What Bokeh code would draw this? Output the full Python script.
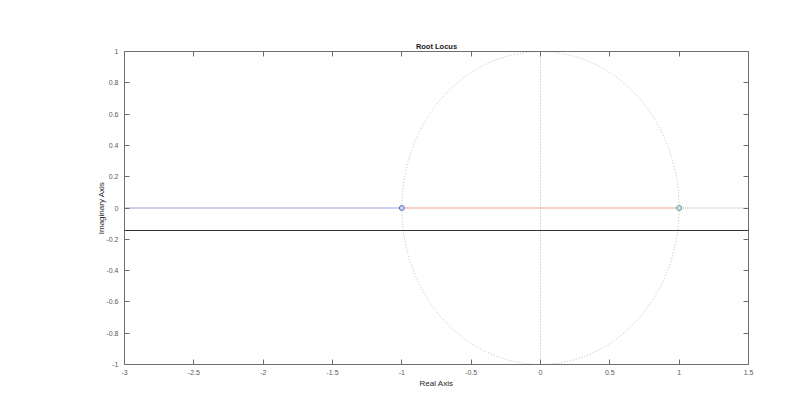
from bokeh.plotting import figure
from bokeh.models import (LinearAxis, FixedTicker, BoxAnnotation, Node, Range1d)
from bokeh.embed import file_html
from bokeh.resources import INLINE

# ---- data ----
x_tick_labels = ["-3", "-2.5", "-2", "-1.5", "-1", "-0.5", "0", "0.5", "1", "1.5"]
y_tick_labels = ["-1", "-0.8", "-0.6", "-0.4", "-0.2", "0", "0.2", "0.4", "0.6", "0.8", "1"]

branch1_x = [-3, -1]
branch1_y = [0, 0]
branch2_x = [-1, 1]
branch2_y = [0, 0]
zero1_x = [-1]
zero1_y = [0]
zero2_x = [1]
zero2_y = [0]
tail_x = [1, 1.5]
tail_y = [0, 0]
imag_line_x = [0, 0]
imag_line_y = [-1, 1]
circle_cx = [0]
circle_cy = [0]
circle_d = [2]
artifact_y = -0.144

FONT = "Liberation Sans"
AX = "#6e6e6e"
TXT = "#5a5a5a"

xt = [float(s) for s in x_tick_labels]
yt = [float(s) for s in y_tick_labels]

p = figure(width=808, height=396, output_backend="svg", toolbar_location=None,
           x_range=Range1d(-3, 1.5), y_range=Range1d(-1, 1),
           frame_width=624, frame_height=313,
           min_border_left=124, min_border_right=60, min_border_top=51, min_border_bottom=32,
           x_axis_location=None, y_axis_location=None, title="Root Locus")
p.outline_line_color = None
p.grid.visible = False
p.background_fill_color = "white"
p.border_fill_color = "white"
p.title.align = "center"
p.title.text_font = FONT
p.title.text_font_size = "7.5px"
p.title.text_font_style = "bold"
p.title.text_color = "#1a1a1a"
p.title.standoff = 2
p.title.offset = 0

def style_axis(ax, ticks, labels, show_labels):
    ax.ticker = FixedTicker(ticks=ticks)
    ax.major_label_overrides = {t: l for t, l in zip(ticks, labels)}
    ax.axis_line_color = AX
    ax.axis_line_width = 1
    ax.major_tick_line_color = AX
    ax.major_tick_in = 5
    ax.major_tick_out = 0
    ax.minor_tick_line_color = None
    ax.major_label_text_font = FONT
    ax.major_label_text_font_size = "7px"
    ax.major_label_text_color = TXT
    if not show_labels:
        ax.major_label_text_alpha = 0
        ax.major_label_text_font_size = "1px"
        ax.major_label_standoff = 0

xb = LinearAxis(); style_axis(xb, xt, x_tick_labels, True); xb.major_label_standoff = 5
xb.axis_label = "Real Axis"
xb.axis_label_text_font = FONT
xb.axis_label_text_font_size = "8px"
xb.axis_label_text_font_style = "normal"
xb.axis_label_text_color = "#262626"
xb.axis_label_standoff = 1
xa = LinearAxis(); style_axis(xa, xt, x_tick_labels, False)
yl = LinearAxis(); style_axis(yl, yt, y_tick_labels, True); yl.major_label_standoff = 6
yl.axis_label = "Imaginary Axis"
yl.axis_label_text_font = FONT
yl.axis_label_text_font_size = "8px"
yl.axis_label_text_font_style = "normal"
yl.axis_label_text_color = "#262626"
yl.axis_label_standoff = -3
yr = LinearAxis(); style_axis(yr, yt, y_tick_labels, False)
p.add_layout(xb, "below")
p.add_layout(xa, "above")
p.add_layout(yl, "left")
p.add_layout(yr, "right")

# grid elements (dotted gray)
p.ellipse(x=circle_cx, y=circle_cy, width=circle_d, height=circle_d,
          fill_alpha=0, line_color="#b8b8b8", line_dash="1 2", line_width=1)
p.line(imag_line_x, imag_line_y, line_color="#b0b0b0", line_dash="1 2", line_width=1)
p.line(tail_x, tail_y, line_color="#b0b0b0", line_dash="1 1", line_width=1)

# branches
p.line(branch1_x, branch1_y, line_color="#94a0dc", line_width=1.1)
p.line(branch2_x, branch2_y, line_color="#eca898", line_width=1.1)

# zeros
p.scatter(zero1_x, zero1_y, marker="circle", size=5, fill_color="#c8d2ee",
          line_color="#5b74b8", line_width=1)
p.scatter(zero2_x, zero2_y, marker="circle", size=5, fill_color="#cfe4e4",
          line_color="#5f9a9c", line_width=1)

# stray horizontal line across the whole picture
p.add_layout(BoxAnnotation(left=Node(target="canvas", symbol="left", offset=11),
                           right=Node(target="canvas", symbol="right"),
                           top=artifact_y + 0.003, bottom=artifact_y - 0.003,
                           fill_color="#333333", fill_alpha=1, line_color=None))

open("out.html", "w").write(file_html(p, INLINE))
